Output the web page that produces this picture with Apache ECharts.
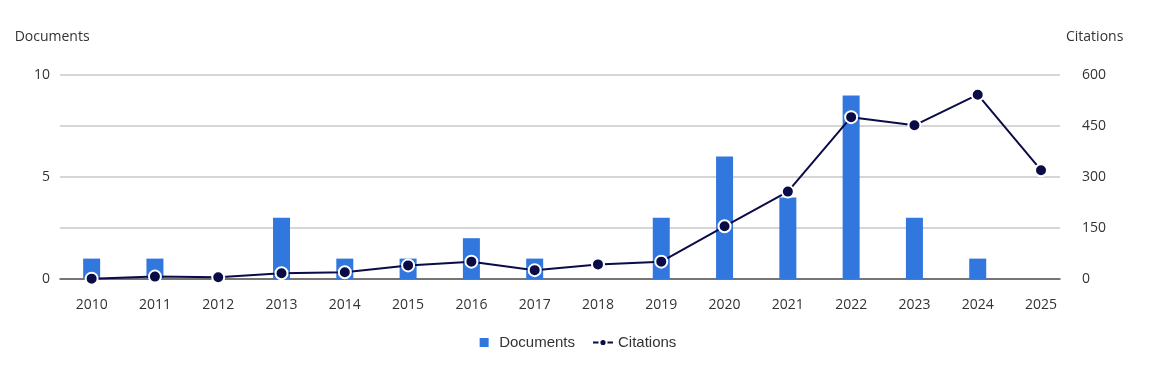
<!DOCTYPE html>
<html>
<head>
<meta charset="utf-8">
<script src="https://cdn.jsdelivr.net/npm/echarts@6/dist/echarts.min.js"></script>
<style>
html,body{margin:0;padding:0;background:#fff;}
#chart{width:1156px;height:369px;}
</style>
</head>
<body>
<div id="chart"></div>
<script>
const years = ['2010','2011','2012','2013','2014','2015','2016','2017','2018','2019','2020','2021','2022','2023','2024','2025'];
const documents = [1,1,0,3,1,1,2,1,0,3,6,4,9,3,1,0];
const citations = [1,7,5,17,20,40,51,26,43,51,155,257,476,452,542,320];
const leftTicks = [0,5,10];
const rightTicks = [0,150,300,450,600];

const chart = echarts.init(document.getElementById('chart'), null, {renderer:'canvas'});
const tickFont = {fontFamily:'Open Sans', fontSize:14, color:'#333'};
const isInt = v => Math.abs(v - Math.round(v)) < 1e-6;

chart.setOption({
  animation:false,
  grid:{left:60, right:96, top:75, bottom:90},
  legend:{
    bottom:14, left:'center', itemGap:17, itemWidth:20, itemHeight:9,
    textStyle:{fontFamily:'Liberation Sans', fontSize:15, color:'#333'},
    data:[
      {name:'Documents', icon:'path://M0,0 h10 v10 h-10 z'},
      {name:'Citations'}
    ]
  },
  xAxis:{
    type:'value', min:-0.5, max:15.3, interval:0.5,
    axisLine:{show:true, lineStyle:{color:'#555', width:1.5}},
    axisTick:{show:false},
    splitLine:{show:false},
    axisLabel:Object.assign({margin:19, formatter:v => isInt(v) && v>=0 && v<years.length ? years[Math.round(v)] : ''}, tickFont)
  },
  yAxis:[
    {
      type:'value', min:0, max:10, interval:2.5, position:'left',
      name:'Documents', nameLocation:'end', nameGap:31,
      nameTextStyle:{fontFamily:'Open Sans', fontSize:14, color:'#333', align:'left', padding:[0,0,0,-77]},
      axisLine:{show:false}, axisTick:{show:false},
      splitLine:{lineStyle:{color:'#c8c8c8', width:1.5}},
      axisLabel:Object.assign({margin:10, formatter:v => leftTicks.indexOf(v) >= 0 ? String(v) : ''}, tickFont)
    },
    {
      type:'value', min:0, max:600, interval:150, position:'right',
      name:'Citations', nameLocation:'end', nameGap:31,
      nameTextStyle:{fontFamily:'Open Sans', fontSize:14, color:'#333', align:'left', padding:[0,0,0,6]},
      axisLine:{show:false}, axisTick:{show:false},
      splitLine:{show:false},
      axisLabel:Object.assign({margin:22, formatter:v => rightTicks.indexOf(v) >= 0 ? String(v) : ''}, tickFont)
    }
  ],
  series:[
    {
      name:'Documents', type:'bar', yAxisIndex:0, barWidth:17,
      itemStyle:{color:'#3277de'},
      data:documents.map((d,i)=>[i,d])
    },
    {
      name:'Citations', type:'line', yAxisIndex:1,
      symbol:'circle', symbolSize:12,
      lineStyle:{color:'#0b0b47', width:2},
      itemStyle:{color:'#0b0b47', borderColor:'#fff', borderWidth:2},
      data:citations.map((c,i)=>[i,c])
    }
  ]
});
</script>
</body>
</html>
